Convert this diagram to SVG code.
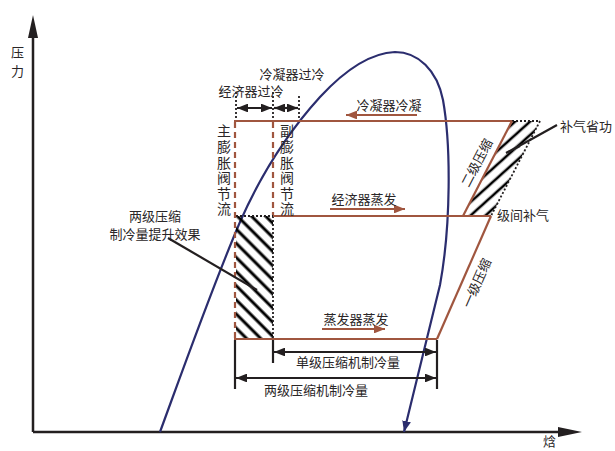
<svg xmlns="http://www.w3.org/2000/svg" width="615" height="451" viewBox="0 0 615 451">
<style>
text{font-family:"Noto Sans CJK SC","Noto Sans",sans-serif;fill:#2a2627;font-size:13px}
.v{font-size:14px;writing-mode:vertical-rl;letter-spacing:1.6px}
.br{stroke:#a0563f;stroke-width:2.2;fill:none}
.brd{stroke:#a0563f;stroke-width:2.2;fill:none;stroke-dasharray:6 4}
.dot{stroke:#231f20;stroke-width:1.8;fill:none;stroke-dasharray:2 2}
.blk{stroke:#231f20;stroke-width:2.2;fill:none}
.dim{stroke:#231f20;stroke-width:2.2;fill:none;marker-start:url(#dh);marker-end:url(#dh)}
.ax{stroke:#231f20;stroke-width:2.5;fill:none}
</style>
<defs>
<marker id="dh" viewBox="0 0 10 8" refX="10" refY="4" markerWidth="5" markerHeight="4" orient="auto-start-reverse"><path d="M0,0 L10,4 L0,8 Z" fill="#231f20"/></marker>
<marker id="bh" viewBox="0 0 10 8" refX="10" refY="4" markerWidth="5" markerHeight="4" orient="auto"><path d="M0,0 L10,4 L0,8 Z" fill="#a0563f"/></marker>
<marker id="nh" viewBox="0 0 10 8" refX="10" refY="4" markerWidth="5" markerHeight="4" orient="auto"><path d="M0,0 L10,4 L0,8 Z" fill="#2b2d6e"/></marker>
<pattern id="hatchR" width="10" height="10" patternUnits="userSpaceOnUse" patternTransform="rotate(-45)"><line x1="5" y1="0" x2="5" y2="10" stroke="#000" stroke-width="3"/></pattern>
<pattern id="hatchP" width="10" height="10" patternUnits="userSpaceOnUse" patternTransform="rotate(48)"><line x1="5" y1="0" x2="5" y2="10" stroke="#000" stroke-width="2.6"/></pattern>
</defs>

<g id="axes">
<line class="ax" x1="33" y1="432" x2="33" y2="35"/>
<path d="M33,15 L28,38 L38,38 Z" fill="#231f20"/>
<line class="ax" x1="33" y1="432" x2="560" y2="432"/>
<path d="M582,432 L558,427 L558,437 Z" fill="#231f20"/>
<text x="11" y="57" font-size="14">压</text>
<text x="11" y="76" font-size="14">力</text>
<text x="543" y="446" font-size="14">焓</text>
</g>

<g id="dome">
<path d="M160,432 C190,350 215,280 240,222 C262,172 290,130 320,97 C345,70 370,53 395,52 C418,52 437,70 443,100 C451,145 451,225 440,285 L404,432" stroke="#2b2d6e" stroke-width="2.2" fill="none" marker-end="url(#nh)"/>
</g>

<g id="hatch-rect">
<rect x="236" y="216" width="37" height="123" fill="url(#hatchR)"/>
<line class="dot" x1="236" y1="216" x2="273" y2="216"/>
<line class="dot" x1="273" y1="216" x2="273" y2="339"/>
</g>

<g id="hatch-work">
<path d="M463,216 L512,121 L540,121 L491,216 Z" fill="url(#hatchP)"/>
<line class="dot" x1="512" y1="121" x2="540" y2="121"/>
<line class="dot" x1="540" y1="121" x2="491" y2="216"/>
</g>

<g id="cycle">
<line class="br" x1="234" y1="121" x2="512" y2="121"/>
<line class="br" x1="273" y1="216" x2="491" y2="216"/>
<line class="br" x1="234" y1="339" x2="437" y2="339"/>
<line class="br" x1="463" y1="216" x2="512" y2="121"/>
<line class="br" x1="437" y1="339" x2="491" y2="216"/>
<line class="brd" x1="235" y1="122" x2="235" y2="338"/>
<line class="brd" x1="273" y1="122" x2="273" y2="215"/>
</g>

<g id="connectors">
<line class="dot" x1="236" y1="92" x2="236" y2="120"/>
<line class="dot" x1="273" y1="92" x2="273" y2="120"/>
<line class="dot" x1="299" y1="96" x2="299" y2="120"/>
<line class="dim" x1="237" y1="108" x2="272" y2="108"/>
<line class="dim" x1="274" y1="108" x2="298" y2="108"/>
<line class="blk" x1="235" y1="340" x2="235" y2="389"/>
<line class="blk" x1="273" y1="340" x2="273" y2="363"/>
<line class="blk" x1="437" y1="340" x2="437" y2="389"/>
<line class="dim" x1="274" y1="352" x2="436" y2="352"/>
<line class="dim" x1="236" y1="378" x2="436" y2="378"/>
<line class="br" x1="417" y1="115" x2="346" y2="115" marker-end="url(#bh)"/>
<line class="br" x1="330" y1="209" x2="405" y2="209" marker-end="url(#bh)"/>
<line class="br" x1="322" y1="329" x2="385" y2="329" marker-end="url(#bh)"/>
<line class="blk" x1="168" y1="238" x2="257" y2="290"/>
<polyline class="blk" points="557,125 530,140 506,153 520,146"/>
</g>

<g id="labels">
<text x="292" y="79" text-anchor="middle" font-size="13.5">冷凝器过冷</text>
<text x="251" y="96" text-anchor="middle" font-size="13.5">经济器过冷</text>
<text id="main-valve" class="v" x="224" y="124">主膨胀阀节流</text>
<text id="aux-valve" class="v" x="287" y="124">副膨胀阀节流</text>
<text x="389" y="110" text-anchor="middle">冷凝器冷凝</text>
<text x="364" y="204" text-anchor="middle">经济器蒸发</text>
<text x="356" y="324" text-anchor="middle">蒸发器蒸发</text>
<text x="155" y="221" text-anchor="middle">两级压缩</text>
<text x="155" y="239" text-anchor="middle">制冷量提升效果</text>
<text x="348" y="367" text-anchor="middle">单级压缩机制冷量</text>
<text x="316" y="395" text-anchor="middle">两级压缩机制冷量</text>
<text x="560" y="131">补气省功</text>
<text x="497" y="220">级间补气</text>
<text transform="translate(481,165) rotate(-62.7)" text-anchor="middle">二级压缩</text>
<text transform="translate(481,285) rotate(-66)" text-anchor="middle">一级压缩</text>
</g>
</svg>
